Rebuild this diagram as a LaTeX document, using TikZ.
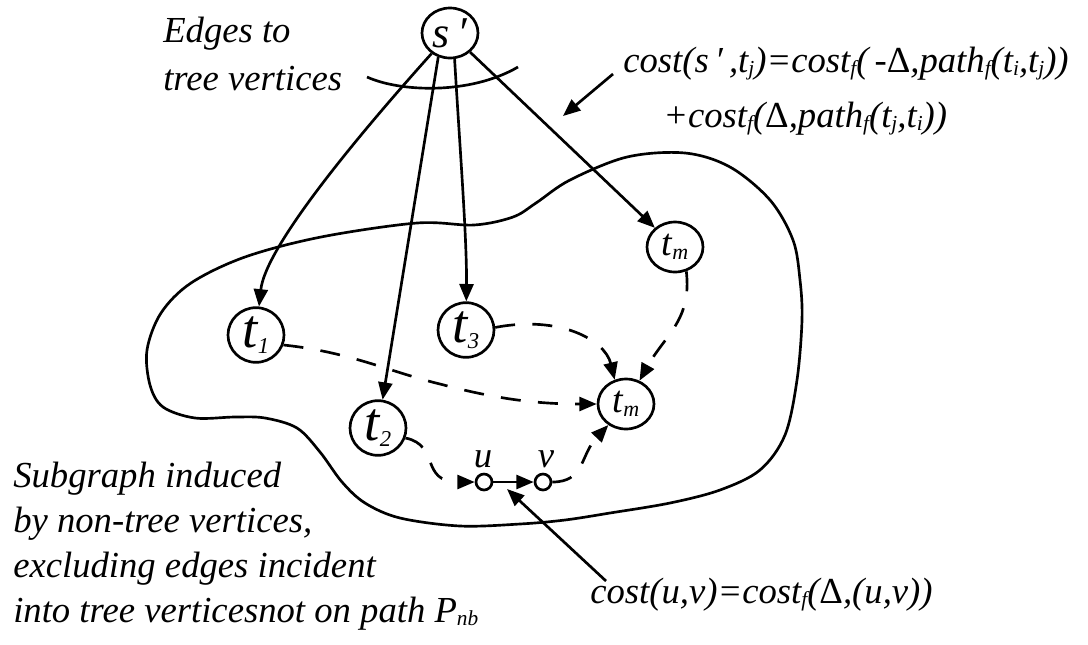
\documentclass[tikz,border=0pt]{standalone}
\usepackage{fontspec}
\setmainfont{Liberation Serif}
\usetikzlibrary{arrows.meta,shapes.geometric}
% small lowered index with an explicit size
\newcommand\lowsub[2]{\raisebox{-0.1em}{\fontsize{#1}{#1}\selectfont #2}}
\newcommand\ix[1]{\lowsub{16}{#1}}
\newcommand\Dl{{\upshape Δ}}
\begin{document}
\begin{tikzpicture}[x=0.75pt,y=-0.75pt,
  ln/.style={line width=2pt},
  arr/.style={ln,-{Triangle[length=13pt,width=10.5pt]}},
  darr/.style={arr,dash pattern=on 15pt off 13pt},
  vtx/.style={draw,ln,ellipse,inner sep=0pt,fill=white},
  bigvtx/.style={vtx,minimum width=42pt,minimum height=41pt,font=\fontsize{41}{41}\selectfont\itshape},
  midvtx/.style={vtx,minimum width=42pt,minimum height=37.5pt,font=\fontsize{28.5}{28.5}\selectfont\itshape},
  dot/.style={draw,ln,circle,inner sep=0pt,minimum size=12pt,fill=white},
  lab/.style={inner sep=0pt,font=\fontsize{27.5}{33}\selectfont\itshape}]
\useasboundingbox (0,0) rectangle (1088,644);

% region of non-tree vertices
\draw[ln] plot[smooth cycle,tension=0.55] coordinates {
  (147,350) (150,385) (163,407) (195,418) (235,417) (265,418) (297,428)
  (320,452) (342,482) (365,503) (400,518) (460,526) (520,524) (565,520)
  (610,513) (670,503) (720,490) (760,470) (785,435) (797,380) (802,320)
  (800,280) (793,240) (770,200) (730,167) (685,153) (627,157) (570,180)
  (536,203) (513,217) (474,225) (417,223) (321,237) (245,257) (191,283)
  (161,313)};

% vertices
\node[vtx,minimum width=42pt,minimum height=37.5pt,font=\fontsize{33}{33}\selectfont\itshape] (s) at (450,33) {s\,′};
\node[bigvtx] (t1) at (256,335) {t\lowsub{17}{1}};
\node[bigvtx] (t2) at (378,428) {t\lowsub{17}{2}};
\node[bigvtx] (t3) at (466,330) {t\lowsub{17}{3}};
\node[midvtx] (tma) at (675,247) {t\lowsub{16.5}{m}};
\node[midvtx] (tmb) at (626,404) {t\lowsub{16.5}{m}};
\node[dot] (uu) at (484,482) {};
\node[dot] (vv) at (543,482) {};
\node[lab,anchor=base] (ul) at (483,467) {u};
\node[lab,anchor=base] (vl) at (546,467) {v};

% edges from s' to the tree vertices
\draw[arr] (s) .. controls (345,150) and (265,250) .. (t1);
\draw[arr] (s.244) -- (t2);
\draw[arr] (s.280) .. controls (460,150) and (467,240) .. (t3);
\draw[arr] (s) -- (tma);

% arc grouping the edges
\draw[ln] (367,77) .. controls (400,92) and (470,95) .. (518,67);

% paths inside the region
\draw[darr] (t1.-20) .. controls (350,352) and (390,372) .. (440,384)
  .. controls (500,400) and (540,404) .. (tmb.west);
\draw[darr] (t3.5) .. controls (560,315) and (605,340) .. (tmb.115);
\draw[darr] (tma.-65) .. controls (692,320) and (665,335) .. (tmb.60);
\draw[darr] (t2.-20) .. controls (440,445) and (420,482) .. (uu.west);
\draw[arr] (uu) -- (vv);
\draw[darr] (vv.east) .. controls (585,482) and (580,455) .. (tmb.-130);

% labels
\node[lab,anchor=base west] (e1) at (163,42) {Edges to};
\node[lab,anchor=base west] (e2) at (163,90) {tree vertices};
\node[lab,anchor=base west] (f1) at (623,72) {cost(s\,′\,,t\ix{j})=cost\ix{f}(\,-\Dl,path\ix{f}(t\ix{i},t\ix{j}))};
\node[lab,anchor=base west] (f2) at (663,127) {+cost\ix{f}(\Dl,path\ix{f}(t\ix{j},t\ix{i}))};
\node[lab,anchor=base west] (f3) at (590,603) {cost(u,v)=cost\ix{f}(\Dl,(u,v))};
\node[lab,anchor=base west] (b1) at (13,487) {Subgraph induced};
\node[lab,anchor=base west] (b2) at (13,532) {by non-tree vertices,};
\node[lab,anchor=base west] (b3) at (13,577) {excluding edges incident};
\node[lab,anchor=base west] (b4) at (13,622) {into tree verticesnot on path P\ix{nb}};

% pointers from the cost labels
\coordinate (fa) at (613,74);
\coordinate (fb) at (563,116);
\draw[arr] (fa) -- (fb);
\coordinate (ca) at (606,581);
\coordinate (cb) at (507,489);
\draw[arr] (ca) -- (cb);
\end{tikzpicture}
\end{document}
